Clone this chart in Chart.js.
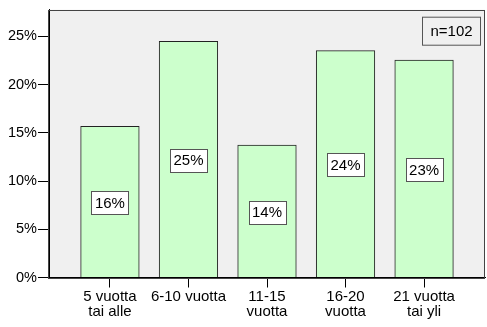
<!DOCTYPE html>
<html>
<head>
<meta charset="utf-8">
<script src="https://cdn.jsdelivr.net/npm/chart.js@4"></script>
<style>
  html, body { margin: 0; padding: 0; background: #fff; }
  #wrap { width: 487px; height: 327px; position: relative; }
</style>
</head>
<body>
<div id="wrap"><canvas id="yearsChart"></canvas></div>
<script>
// vuodet alalla, n=102
const categories = [["5 vuotta", "tai alle"], ["6-10 vuotta"], ["11-15", "vuotta"], ["16-20", "vuotta"], ["21 vuotta", "tai yli"]];
const counts = [16, 25, 14, 24, 23];
const total = 102;
const percents = counts.map(c => c / total * 100);
const yTicks = [0, 5, 10, 15, 20, 25];

const FONT = "'Liberation Sans', Arial, sans-serif";

// tausta, kehys ja n-laatikko
const frame = {
  id: "frame",
  beforeDraw(chart) {
    const { ctx, chartArea: a } = chart;
    ctx.save();
    ctx.fillStyle = "#f0f0f0";
    ctx.fillRect(a.left, a.top, a.right - a.left, a.bottom - a.top);
    ctx.restore();
  },
  afterDatasetsDraw(chart) {
    const { ctx } = chart;
    const meta = chart.getDatasetMeta(0);
    ctx.save();
    ctx.font = "15px " + FONT;
    ctx.textAlign = "center";
    ctx.textBaseline = "middle";
    meta.data.forEach((bar, i) => {
      const txt = Math.round(percents[i]) + "%";
      const w = Math.round(ctx.measureText(txt).width) + 7;
      const h = 23;
      const cx = bar.x;
      const cy = (bar.y + bar.base) / 2 + 1;
      const x0 = Math.round(cx - w / 2) + 0.5;
      const y0 = Math.round(cy - h / 2) + 0.5;
      ctx.fillStyle = "#fff";
      ctx.fillRect(x0, y0, w, h);
      ctx.strokeStyle = "#555";
      ctx.lineWidth = 1;
      ctx.strokeRect(x0, y0, w, h);
      ctx.fillStyle = "#000";
      ctx.fillText(txt, cx, cy + 1);
    });
    ctx.restore();
  },
  afterDraw(chart) {
    const { ctx, chartArea: a } = chart;
    ctx.save();
    ctx.strokeStyle = "#444";
    ctx.lineWidth = 1;
    ctx.strokeRect(Math.round(a.left) - 0.5, Math.round(a.top) + 0.5, Math.round(a.right - a.left), Math.round(a.bottom - a.top));
    // n-laatikko oikeassa yläkulmassa
    const bx = a.right - 62.5, by = a.top + 7.5, bw = 58, bh = 28;
    ctx.strokeStyle = "#555";
    ctx.strokeRect(bx, by, bw, bh);
    ctx.fillStyle = "#000";
    ctx.font = "15px " + FONT;
    ctx.textAlign = "center";
    ctx.textBaseline = "middle";
    ctx.fillText("n=" + total, bx + bw / 2, by + bh / 2 + 1);
    ctx.restore();
  }
};

new Chart(document.getElementById("yearsChart"), {
  type: "bar",
  data: {
    datasets: [{
      data: percents.map((v, i) => ({ x: i, y: v })),
      backgroundColor: "#ccffcc",
      borderColor: "#222",
      borderWidth: 1,
      barThickness: 58.6
    }]
  },
  options: {
    responsive: true,
    maintainAspectRatio: false,
    animation: false,
    layout: { padding: { top: 8, right: 2, left: 0, bottom: 0 } },
    plugins: { legend: { display: false }, tooltip: { enabled: false } },
    scales: {
      x: {
        type: "linear",
        min: -0.776,
        max: 4.776,
        offset: false,
        afterBuildTicks: s => { s.ticks = categories.map((_, i) => ({ value: i })); },
        afterFit: s => { s.height = 49.5; },
        ticks: {
          autoSkip: false,
          maxRotation: 0,
          padding: 2,
          color: "#000",
          font: { family: FONT, size: 15, lineHeight: 1.0 },
          callback: v => categories[v]
        },
        grid: { offset: false, drawOnChartArea: false, drawTicks: true, tickLength: 10, color: "#000" },
        border: { display: true, color: "#000" }
      },
      y: {
        min: 0,
        max: 27.78,
        afterBuildTicks: s => { s.ticks = yTicks.map(v => ({ value: v })); },
        afterFit: s => { s.width = 49; },
        ticks: {
          padding: 1,
          color: "#000",
          font: { family: FONT, size: 14.5 },
          callback: v => v + "%"
        },
        grid: { drawOnChartArea: false, drawTicks: true, tickLength: 11, color: "#000" },
        border: { display: true, color: "#000" }
      }
    }
  },
  plugins: [frame]
});
</script>
</body>
</html>
